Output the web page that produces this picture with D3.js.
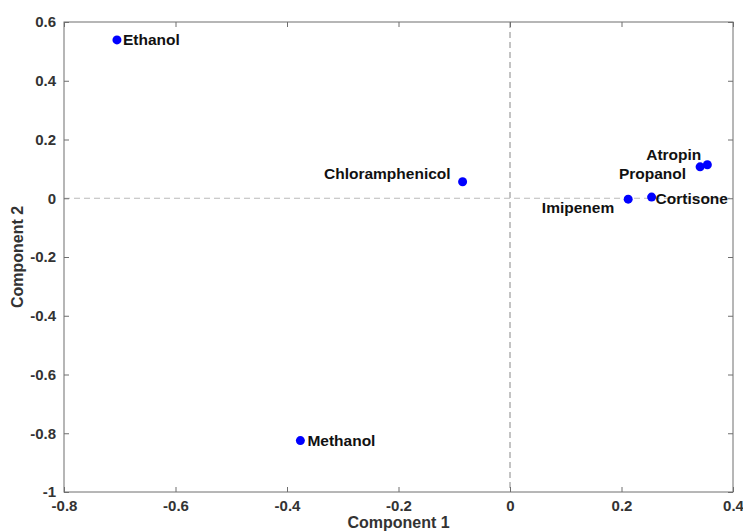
<!DOCTYPE html>
<html>
<head>
<meta charset="utf-8">
<script src="https://cdn.jsdelivr.net/npm/d3@7"></script>
<style>
  body { margin: 0; background: #fff; }
  text { font-family: "Liberation Sans", Arial, sans-serif; font-weight: bold; }
</style>
</head>
<body>
<div id="chart"></div>
<script>
// Data
const names = ["Ethanol", "Chloramphenicol", "Methanol", "Imipenem", "Cortisone", "Propanol", "Atropin"];
const comp1 = [-0.705, -0.085, -0.376, 0.212, 0.254, 0.341, 0.354];
const comp2 = [0.539, 0.056, -0.825, -0.003, 0.004, 0.107, 0.114];
const xTicks = [-0.8, -0.6, -0.4, -0.2, 0, 0.2, 0.4];
const yTicks = [-1, -0.8, -0.6, -0.4, -0.2, 0, 0.2, 0.4, 0.6];

// label placement (pixel offsets from marker)
const labelPos = {
    "Ethanol":         { dx: 6,   dy: 0,  anchor: "start" },
    "Chloramphenicol": { dx: -12, dy: -8, anchor: "end" },
    "Methanol":        { dx: 7,   dy: 0,  anchor: "start" },
    "Imipenem":        { dx: -14, dy: 8,  anchor: "end" },
    "Cortisone":       { dx: 4,   dy: 1,  anchor: "start" },
    "Propanol":        { dx: -14, dy: 7,  anchor: "end" },
    "Atropin":         { dx: -6,  dy: -10, anchor: "end" }
};

const data = names.map((n, i) => ({ name: n, x: comp1[i], y: comp2[i] }));

const W = 743, H = 531;
const margin = { top: 22, right: 10, bottom: 39, left: 64 };
const width = W - margin.left - margin.right;
const height = H - margin.top - margin.bottom;

const svg = d3.select("#chart")
    .append("svg")
    .attr("width", W)
    .attr("height", H);

const g = svg.append("g")
    .attr("transform", "translate(" + margin.left + "," + margin.top + ")");

const x = d3.scaleLinear().domain([-0.8, 0.4]).range([0, width]);
const y = d3.scaleLinear().domain([-1, 0.6]).range([height, 0]);

const axisColor = "#6e6e6e";
const textColor = "#333";
const fmt = d => String(d);   // plain hyphen minus like the original

// dashed zero lines
g.append("line")
    .attr("x1", x(0)).attr("x2", x(0))
    .attr("y1", 0).attr("y2", height)
    .attr("stroke", "#888").attr("stroke-width", 1)
    .attr("stroke-dasharray", "6,4");
g.append("line")
    .attr("x1", 0).attr("x2", width)
    .attr("y1", y(0)).attr("y2", y(0))
    .attr("stroke", "#bbb").attr("stroke-width", 1.2)
    .attr("stroke-dasharray", "6,4");

// axes (ticks pointing inward)
function styleAxis(sel) {
    sel.select(".domain").remove();
    sel.selectAll(".tick line").attr("stroke", axisColor);
    sel.selectAll(".tick text").attr("fill", textColor).style("font-size", "15px");
}

g.append("g")
    .attr("transform", "translate(0," + height + ")")
    .call(d3.axisBottom(x).tickValues(xTicks).tickSizeInner(-5).tickSizeOuter(0).tickPadding(8).tickFormat(fmt))
    .call(styleAxis);

g.append("g")
    .call(d3.axisTop(x).tickValues(xTicks).tickSizeInner(-5).tickSizeOuter(0).tickFormat(""))
    .call(styleAxis);

g.append("g")
    .call(d3.axisLeft(y).tickValues(yTicks).tickSizeInner(-5).tickSizeOuter(0).tickPadding(8).tickFormat(fmt))
    .call(styleAxis);

g.append("g")
    .attr("transform", "translate(" + width + ",0)")
    .call(d3.axisRight(y).tickValues(yTicks).tickSizeInner(-5).tickSizeOuter(0).tickFormat(""))
    .call(styleAxis);

// box
g.append("rect")
    .attr("x", 0).attr("y", 0)
    .attr("width", width).attr("height", height)
    .attr("fill", "none")
    .attr("stroke", axisColor)
    .attr("stroke-width", 1);

// points
g.selectAll(".dot")
    .data(data)
    .enter()
    .append("circle")
    .attr("class", "dot")
    .attr("cx", d => x(d.x))
    .attr("cy", d => y(d.y))
    .attr("r", 4.5)
    .attr("fill", "#0000ff");

// labels
g.selectAll(".label")
    .data(data)
    .enter()
    .append("text")
    .attr("class", "label")
    .attr("x", d => x(d.x) + labelPos[d.name].dx)
    .attr("y", d => y(d.y) + labelPos[d.name].dy)
    .attr("dy", "0.35em")
    .attr("text-anchor", d => labelPos[d.name].anchor)
    .attr("fill", "#111")
    .style("font-size", "15.5px")
    .text(d => d.name);

// axis titles
svg.append("text")
    .attr("x", margin.left + width / 2)
    .attr("y", H - 3)
    .attr("text-anchor", "middle")
    .attr("fill", textColor)
    .style("font-size", "16px")
    .text("Component 1");

svg.append("text")
    .attr("transform", "translate(23," + (margin.top + height / 2) + ") rotate(-90)")
    .attr("text-anchor", "middle")
    .attr("fill", textColor)
    .style("font-size", "16px")
    .text("Component 2");
</script>
</body>
</html>
